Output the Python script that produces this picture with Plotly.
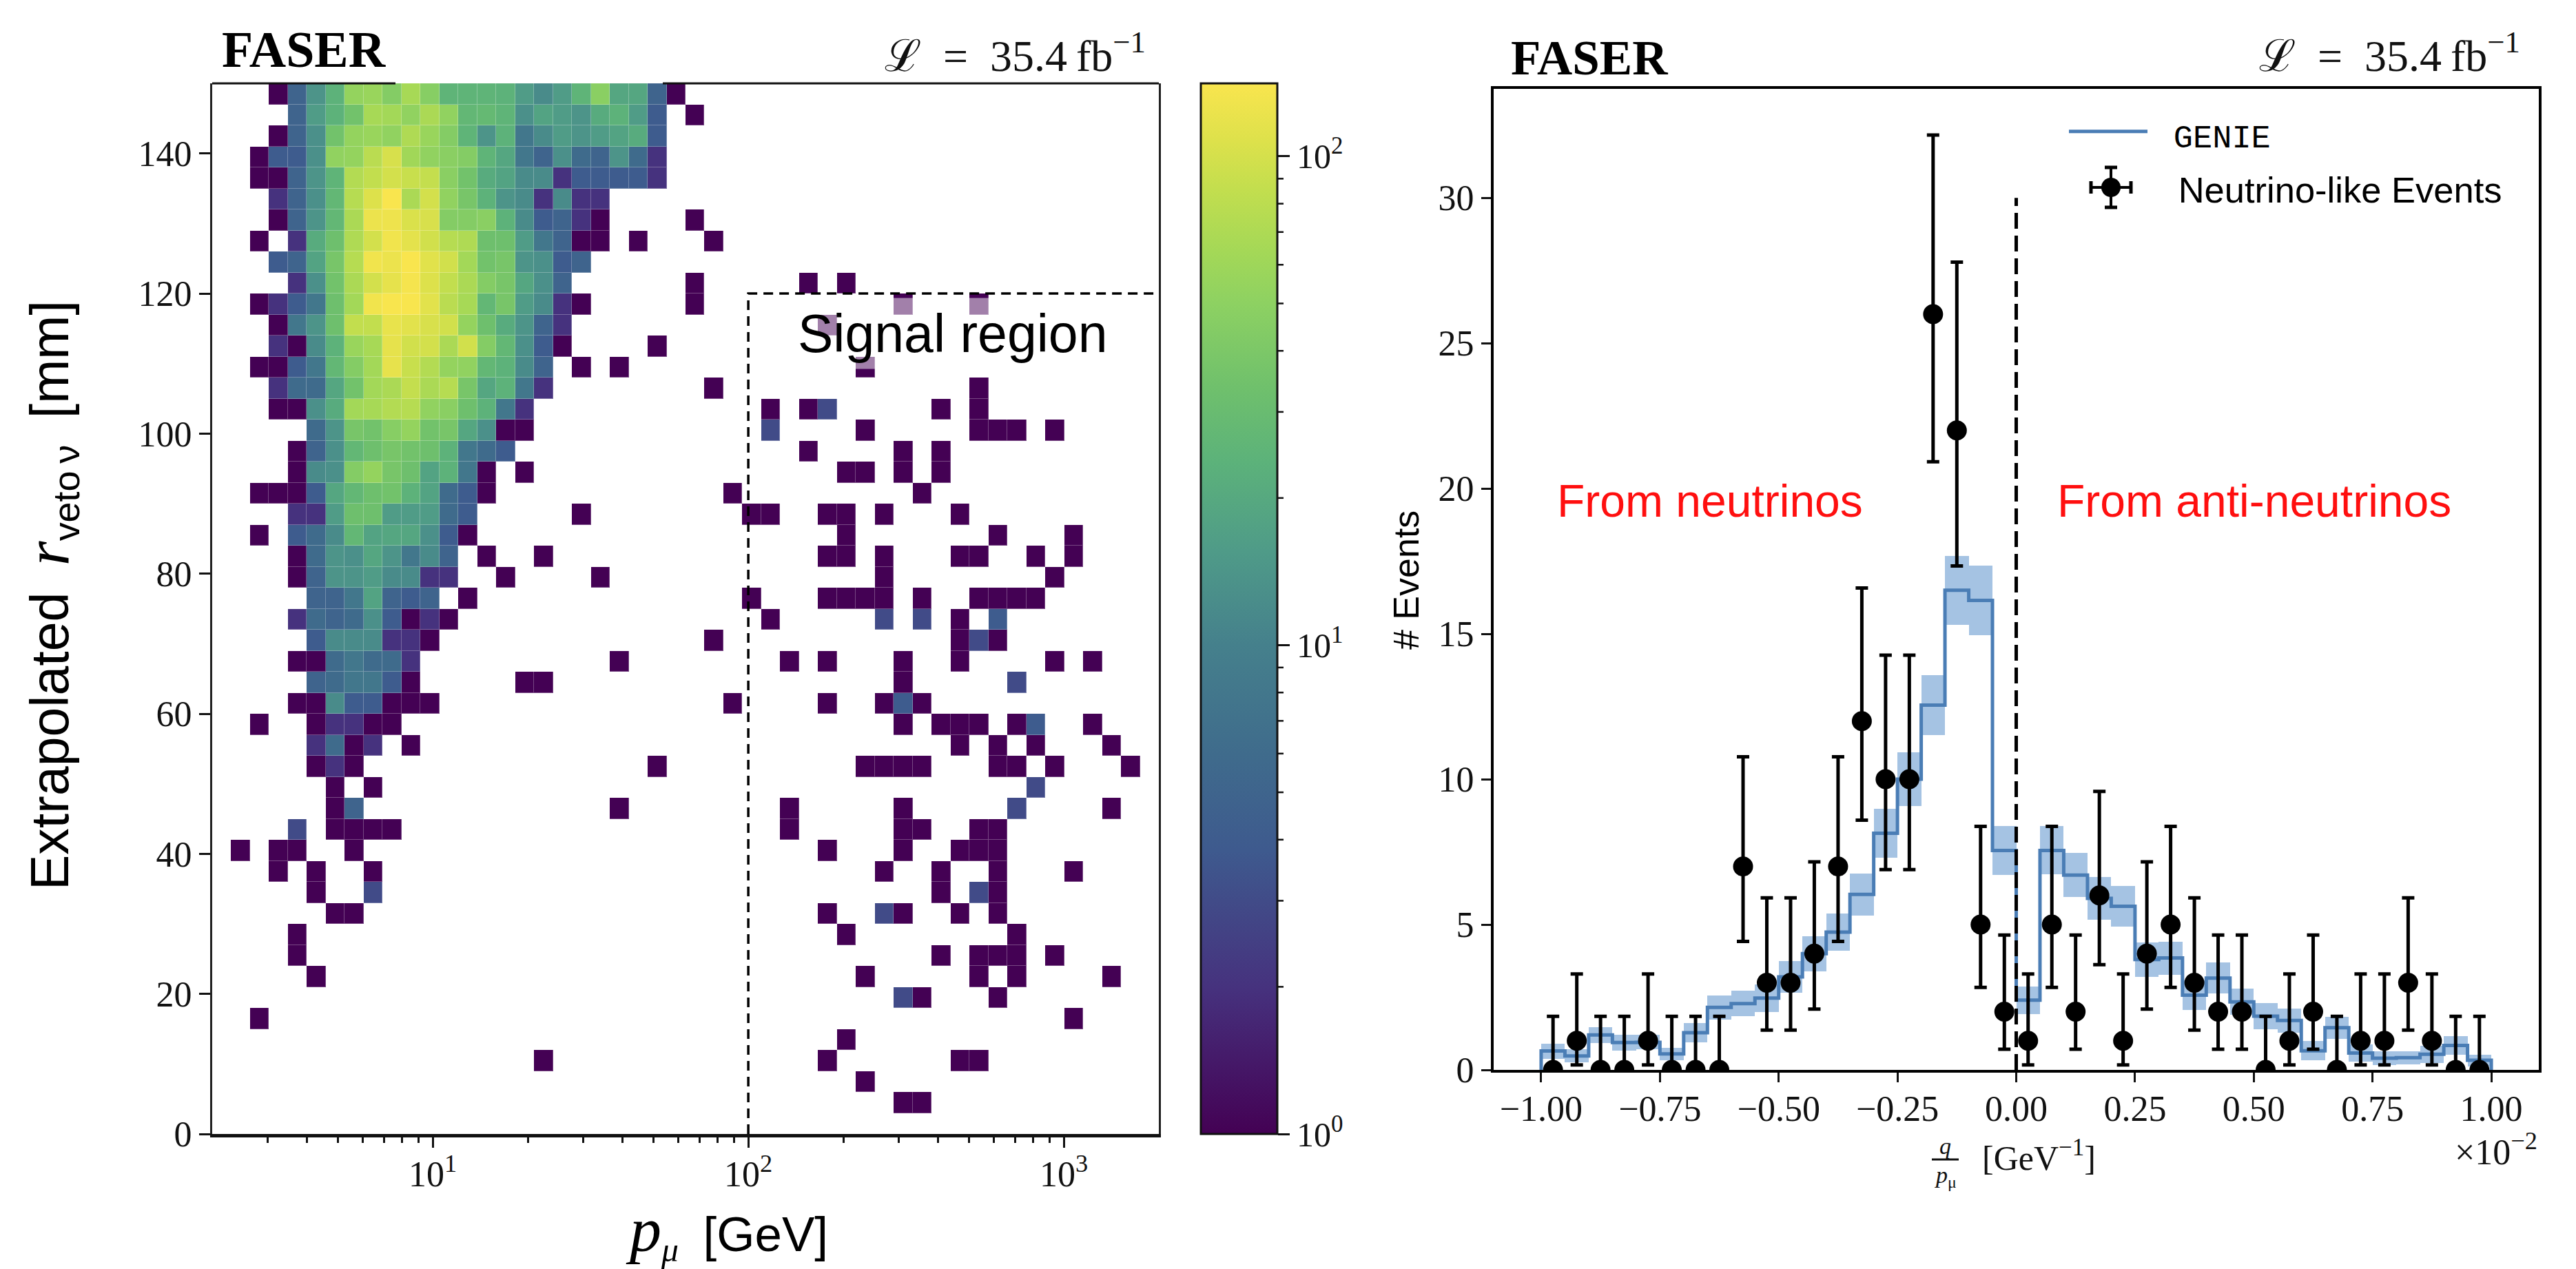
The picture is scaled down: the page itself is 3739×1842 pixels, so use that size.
import numpy as np
import plotly.graph_objects as go

W, H = 3739, 1842

# ---------- left panel: counts per bin, (first column, counts) segments per row ----------
r1 = [(36,[1,1])]
r2 = [(34,[1])]
r3 = [(17,[1]),(32,[1]),(39,[1,1])]
r4 = [(33,[1])]
r5 = [(2,[1]),(45,[1])]
r6 = [(36,[3,1]),(41,[1])]
r7 = [(5,[1]),(34,[1]),(40,[1]),(42,[1]),(47,[1])]
r8 = [(4,[1]),(38,[1]),(40,[1,1,1]),(44,[1])]
r9 = [(4,[1]),(33,[1]),(42,[1])]
r10 = [(6,[1,1]),(32,[1]),(35,[3,1]),(39,[1]),(41,[1])]
r11 = [(5,[1]),(8,[3]),(38,[1]),(40,[3,1])]
r12 = [(3,[1]),(5,[1]),(8,[1]),(35,[1]),(38,[1]),(41,[1]),(45,[1])]
r13 = [(1,[1]),(3,[1,1]),(7,[1]),(32,[1]),(36,[1]),(39,[1,1,1])]
r14 = [(4,[3]),(6,[1,1,1,1]),(30,[1]),(36,[1,1]),(40,[1,1])]
r15 = [(6,[1,5]),(21,[1]),(30,[1]),(36,[1]),(42,[3]),(47,[1])]
r16 = [(6,[1]),(8,[1]),(43,[3])]
r17 = [(5,[1,2,1]),(23,[1]),(34,[1,1,1,1]),(41,[1,1]),(44,[1]),(48,[1])]
r18 = [(5,[2,6,1,2]),(10,[1]),(39,[1]),(41,[1]),(43,[1]),(47,[1])]
r19 = [(2,[1]),(5,[1,2,2,1,1]),(36,[1]),(38,[1,1,1]),(42,[1,4]),(46,[1])]
r20 = [(4,[1,1,12,4,4,1,1,1]),(27,[1]),(32,[1]),(35,[1,4,1])]
r21 = [(5,[5,6,8,8,4,1]),(16,[1,1]),(36,[1]),(42,[3])]
r22 = [(4,[1,1,6,8,6,6,2]),(21,[1]),(30,[1]),(32,[1]),(36,[1]),(39,[1]),(44,[1]),(46,[1])]
r23 = [(5,[4,12,12,12,2,2,1]),(26,[1]),(39,[1,3,1])]
r24 = [(4,[2,6,5,6,13,4,1,2,1]),(29,[1]),(35,[3]),(37,[3]),(39,[1]),(41,[4])]
r25 = [(5,[5,5,8,18,5,4,5]),(13,[1]),(28,[1]),(32,[1,1,1,1]),(37,[1]),(40,[1,1,1,1])]
r26 = [(4,[1,5,14,14,16,12,12,2,2]),(15,[1]),(20,[1]),(35,[1]),(44,[1])]
r27 = [(4,[1,6,14,13,19,14,8,12,5]),(14,[1]),(17,[1]),(32,[1,1]),(35,[1]),(39,[1,1]),(43,[1]),(45,[1])]
r28 = [(2,[1]),(4,[4,6,12,27,18,19,19,13,4,1]),(33,[1]),(41,[1]),(45,[1])]
r29 = [(4,[2,2,16,33,33,16,16,16,6,4]),(19,[1]),(28,[1,1]),(32,[1,1]),(35,[1]),(39,[1])]
r30 = [(2,[1,1,1,4,19,27,33,35,24,18,6,4,1]),(27,[1]),(37,[1])]
r31 = [(4,[1,12,13,44,54,38,33,18,24,8,1]),(16,[1]),(33,[1,1]),(36,[1]),(38,[1])]
r32 = [(4,[1,5,13,27,33,38,35,33,24,8,6,4]),(31,[1]),(36,[1]),(38,[1])]
r33 = [(5,[6,14,38,35,46,54,35,38,19,13,1,1]),(29,[3]),(34,[1]),(40,[1,1,1]),(44,[1])]
r34 = [(3,[1,1,13,21,63,66,74,76,52,48,33,24,8,2]),(29,[1]),(31,[1,3]),(38,[1]),(40,[1])]
r35 = [(3,[2,6,6,19,35,63,68,87,68,76,38,19,24,8,2]),(26,[1]),(40,[1])]
r36 = [(2,[1,1,4,8,27,44,63,118,90,74,54,52,27,24,12,5]),(19,[1]),(21,[1]),(34,[1])]
r37 = [(3,[2,1,12,24,57,66,117,97,99,68,97,44,27,13,4,1]),(23,[1])]
r38 = [(3,[1,8,14,33,85,85,120,113,103,97,54,33,21,14,5,2]),(32,[1])]
r39 = [(2,[1,2,4,8,33,63,130,139,139,113,79,66,27,38,16,12,2,1]),(25,[1]),(36,[1]),(40,[1])]
r40 = [(4,[2,13,35,68,99,117,135,107,85,68,44,38,19,13,5]),(25,[1]),(31,[1]),(33,[1])]
r41 = [(3,[4,5,18,38,76,130,124,141,112,97,63,35,38,14,13,4,5])]
r42 = [(2,[1]),(4,[2,21,33,71,99,130,115,97,76,71,33,33,16,8,5,1,1]),(22,[1]),(26,[1])]
r43 = [(3,[1,5,14,27,68,124,127,105,103,44,44,48,24,12,4,5,2,1]),(25,[1])]
r44 = [(3,[2,5,13,27,76,107,141,68,99,52,38,24,14,12,2,12,2,2])]
r45 = [(2,[1,1,5,14,25,74,85,99,90,87,48,35,21,18,12,12,2,4,4,4,4,2])]
r46 = [(2,[1,4,4,13,52,54,79,102,62,52,48,44,25,19,8,5,13,6,5,14,6,2])]
r47 = [(3,[1,5,13,35,54,57,52,71,57,44,25,14,24,8,12,16,14,16,18,21,4])]
r48 = [(4,[5,16,24,35,66,63,52,68,52,27,28,25,13,18,16,14,21,24,16,4]),(25,[1])]
r49 = [(3,[1,5,14,24,54,57,44,66,46,25,25,25,24,16,12,16,25,48,19,19,5,1])]

row_segments = [[], r1, r2, r3, r4, r5, r6, r7, r8, r9, r10, r11, r12, r13, r14, r15, r16,
                r17, r18, r19, r20, r21, r22, r23, r24, r25, r26, r27, r28, r29, r30, r31,
                r32, r33, r34, r35, r36, r37, r38, r39, r40, r41, r42, r43, r44, r45, r46,
                r47, r48, r49]

y_ticks_left = [0, 20, 40, 60, 80, 100, 120, 140]
x_ticks_left = [10, 100, 1000]
x_tick_text_left = ["10<sup>1</sup>", "10<sup>2</sup>", "10<sup>3</sup>"]
x_minor_left = [3,4,5,6,7,8,9,20,30,40,50,60,70,80,90,200,300,400,500,600,700,800,900]
cbar_ticks = [1, 10, 100]
cbar_text = ["10<sup>0</sup>", "10<sup>1</sup>", "10<sup>2</sup>"]
cbar_minor = [2,3,4,5,6,7,8,9,20,30,40,50,60,70,80,90]
count_max = 141

# ---------- right panel ----------
q_edges = [-1.00,-0.95,-0.90,-0.85,-0.80,-0.75,-0.70,-0.65,-0.60,-0.55,-0.50,-0.45,-0.40,-0.35,-0.30,-0.25,-0.20,-0.15,-0.10,-0.05,
           0.00,0.05,0.10,0.15,0.20,0.25,0.30,0.35,0.40,0.45,0.50,0.55,0.60,0.65,0.70,0.75,0.80,0.85,0.90,0.95,1.00]
genie = [0.65,0.48,1.20,0.94,0.95,0.55,1.28,2.15,2.28,2.47,3.20,4.00,4.74,6.04,8.14,10.0,12.55,16.5,16.15,7.55,
         2.40,7.55,6.70,5.90,5.63,3.80,3.85,2.57,3.16,2.34,1.85,1.70,0.66,1.45,0.58,0.40,0.42,0.54,0.84,0.33]
genie_err = [0.26,0.22,0.28,0.28,0.25,0.22,0.33,0.42,0.44,0.47,0.55,0.60,0.65,0.72,0.84,0.93,1.04,1.18,1.20,0.85,
             0.47,0.83,0.76,0.73,0.70,0.59,0.57,0.50,0.54,0.45,0.44,0.42,0.33,0.38,0.30,0.24,0.22,0.30,0.32,0.20]
events = [0,1,0,0,1,0,0,0,7,3,3,4,7,12,10,10,26,22,5,2,
          1,5,2,6,1,4,5,3,2,2,0,1,2,0,1,1,3,1,0,0]
events_up = [1.84,2.30,1.84,1.84,2.30,1.84,1.84,1.84,3.77,2.92,2.92,3.16,3.77,4.58,4.27,4.27,6.16,5.79,3.38,2.64,
             2.30,3.38,2.64,3.58,2.30,3.16,3.38,2.92,2.64,2.64,1.84,2.30,2.64,1.84,2.30,2.30,2.92,2.30,1.84,1.84]
events_dn = [0,0.83,0,0,0.83,0,0,0,2.58,1.63,1.63,1.91,2.58,3.41,3.11,3.11,5.08,4.66,2.16,1.29,
             0.83,2.16,1.29,2.38,0.83,1.91,2.16,1.63,1.29,1.29,0,0.83,1.29,0,0.83,0.83,1.63,0.83,0,0]
x_ticks_right = [-1.00,-0.75,-0.50,-0.25,0.00,0.25,0.50,0.75,1.00]
x_tick_text_right = ["\u22121.00","\u22120.75","\u22120.50","\u22120.25","0.00","0.25","0.50","0.75","1.00"]
y_ticks_right = [0,5,10,15,20,25,30]

# ---------- styles and pixel geometry ----------
SERIF = "Liberation Serif"
SANS = "Liberation Sans"
L_L, L_R, L_T, L_B = 308, 1682, 121, 1646
R_L, R_R, R_T, R_B = 2168, 3685, 129, 1553
CB_L, CB_R = 1743, 1854
def px(x): return x / W
def py(y): return 1 - y / H

colorscale = [[0.00,"#440154"],[0.14,"#46327e"],[0.27,"#3e5a8e"],[0.36,"#3f6b8c"],[0.465,"#45808c"],
              [0.555,"#4f9b88"],[0.64,"#5cb27a"],[0.71,"#6fc06c"],[0.79,"#8dd162"],[0.84,"#a4d857"],
              [0.90,"#c3de4e"],[0.945,"#dde14b"],[1.00,"#f9e54e"]]

# ---------- build grid ----------
Z = np.full((50, 50), np.nan)
for j, segs in enumerate(row_segments):
    for start, vals in segs:
        for k, v in enumerate(vals):
            Z[j, start + k] = np.log10(v)
Z_list = [[None if np.isnan(v) else float(v) for v in row] for row in Z]
x_edges = np.geomspace(2, 2000, 51).tolist()
y_edges = np.linspace(0, 150, 51).tolist()

fig = go.Figure()
zmax = float(np.log10(count_max))

# pale layer shows through the thin seams between the cells
fig.add_trace(go.Heatmap(z=Z_list, x=x_edges, y=y_edges, colorscale=colorscale, zmin=0, zmax=zmax,
                         showscale=False, opacity=0.72, hoverongaps=False, xaxis="x", yaxis="y"))
fig.add_trace(go.Heatmap(z=Z_list, x=x_edges, y=y_edges, colorscale=colorscale, zmin=0, zmax=zmax,
                         xgap=1, ygap=1, hoverongaps=False, xaxis="x", yaxis="y",
                         colorbar=dict(x=px(CB_L), xanchor="left", xpad=0, ypad=0,
                                       y=py(L_T), yanchor="top", len=(L_B - L_T) / H, lenmode="fraction",
                                       thickness=CB_R - CB_L, thicknessmode="pixels",
                                       outlinewidth=3, outlinecolor="#111",
                                       tickmode="array", tickvals=[float(np.log10(v)) for v in cbar_ticks],
                                       ticktext=cbar_text, ticks="outside", ticklen=17, tickwidth=3,
                                       tickcolor="#111", tickfont=dict(family=SERIF, size=50, color="#111"))))
fig.add_trace(go.Scatter(x=[100, 100, 2000], y=[0, 120, 120], mode="lines", showlegend=False, hoverinfo="skip",
                         line=dict(color="black", width=3.5, dash="14px,9px"), xaxis="x", yaxis="y"))

# right panel
centers = [(a + b) / 2 for a, b in zip(q_edges[:-1], q_edges[1:])]
fig.add_trace(go.Bar(x=centers, y=[2 * e for e in genie_err],
                     base=[g - e for g, e in zip(genie, genie_err)], width=0.05,
                     marker=dict(color="rgba(66,129,196,0.48)", line=dict(width=0)),
                     showlegend=False, hoverinfo="skip", xaxis="x2", yaxis="y2"))
fig.add_trace(go.Scatter(x=[q_edges[0]] + q_edges, y=[0] + genie + [0, 0], mode="lines",
                         line=dict(color="#4a7db5", width=5, shape="hv"),
                         name='\u00a0\u00a0<span style="font-family:Liberation Mono;font-size:47px">GENIE</span>',
                         xaxis="x2", yaxis="y2"))
fig.add_trace(go.Scatter(x=[0, 0], y=[0, 30], mode="lines", showlegend=False, hoverinfo="skip",
                         line=dict(color="black", width=5, dash="23px,10px"), xaxis="x2", yaxis="y2"))
fig.add_trace(go.Scatter(x=centers, y=events, mode="markers",
                         marker=dict(color="black", size=29),
                         error_y=dict(type="data", symmetric=False, array=events_up, arrayminus=events_dn,
                                      thickness=5, width=9, color="black"),
                         error_x=dict(type="data", value=0.025, thickness=5, width=8, color="black"),
                         name='<span style="font-size:52.5px">\u00a0\u00a0\u2009Neutrino-like Events</span>',
                         xaxis="x2", yaxis="y2"))

# ---------- annotations ----------
def note(text, x, y, size, family=SERIF, color="#111", xanchor="center", yanchor="middle", **kw):
    return dict(text=text, x=px(x), y=py(y), xref="paper", yref="paper", showarrow=False,
                xanchor=xanchor, yanchor=yanchor, font=dict(family=family, size=size, color=color), **kw)

LUMI = "\u2112\u2002=\u200235.4\u2009fb<sup>\u22121</sup>"
annotations = [
    note("<b>FASER</b>", 320, 72, 74, xanchor="left", color="black"),
    note(LUMI, 1665, 76, 64, xanchor="right"),
    note("<b>FASER</b>", 2191, 84, 71, xanchor="left", color="black"),
    note(LUMI, 3660, 76, 64, xanchor="right"),
    note("Signal region", 1382, 484, 77, family=SANS, color="black",
         bgcolor="rgba(255,255,255,0.5)", borderpad=8),
    note('Extrapolated\u2002<span style="font-family:Liberation Serif;font-style:italic;font-size:92px">r</span>'
         '<sub>veto\u2009\u03bd</sub>\u2002[mm]', 71, 864, 77, family=SANS, color="black", textangle=-90),
    note('<span style="font-family:Liberation Serif;font-style:italic;font-size:92px">p</span>'
         '<span style="font-family:Liberation Serif;font-style:italic"><sub>\u03bc</sub></span>\u2002[GeV]',
         1055, 1788, 71, family=SANS, color="black"),
    note("From neutrinos", 2482, 727, 66, family=SANS, color="#ff0f0f"),
    note("From anti-neutrinos", 3272, 727, 66, family=SANS, color="#ff0f0f"),
    note("# Events", 2041, 842, 52, family=SANS, color="black", textangle=-90),
    note("<i>q</i>", 2823, 1663, 34),
    note("<i>p</i><sub>\u03bc</sub>", 2824, 1708, 34),
    note("[GeV<sup>\u22121</sup>]", 2959, 1677, 50),
    note("\u00d710<sup>\u22122</sup>", 3685, 1668, 52, xanchor="right"),
]

# ---------- decoration shapes: spine pieces, fraction bar, colourbar minor ticks, legend key ----------
def line(x0, y0, x1, y1, width=3, color="#111"):
    return dict(type="line", xref="paper", yref="paper", x0=px(x0), y0=py(y0), x1=px(x1), y1=py(y1),
                line=dict(color=color, width=width), layer="above")

shapes = [line(L_L, L_T, 574, L_T), line(962, L_T, L_R, L_T),
          line(2804, 1683, 2843, 1683, 3)]
for v in cbar_minor:
    yy = L_B - (L_B - L_T) * np.log10(v) / zmax
    shapes.append(line(CB_R, yy, CB_R + 9, yy, 2.5))
KX, KY = 3064, 272
shapes += [line(KX - 29, KY, KX + 29, KY, 4, "black"), line(KX, KY - 29, KX, KY + 29, 4, "black"),
           line(KX - 29, KY - 9, KX - 29, KY + 9, 5, "black"), line(KX + 29, KY - 9, KX + 29, KY + 9, 5, "black"),
           line(KX - 9, KY - 29, KX + 9, KY - 29, 5, "black"), line(KX - 9, KY + 29, KX + 9, KY + 29, 5, "black"),
           dict(type="circle", xref="paper", yref="paper", x0=px(KX - 14), x1=px(KX + 14),
                y0=py(KY + 14), y1=py(KY - 14), fillcolor="black", line=dict(width=0), layer="above")]

tickfont = dict(family=SERIF, size=52, color="#111")
fig.update_layout(
    width=W, height=H, autosize=False, margin=dict(l=0, r=0, t=0, b=0, pad=0, autoexpand=False),
    paper_bgcolor="white", plot_bgcolor="white", bargap=0,
    annotations=annotations, shapes=shapes,
    legend=dict(x=px(2998), y=py(146), xanchor="left", yanchor="top", bgcolor="rgba(0,0,0,0)",
                borderwidth=0, itemwidth=114, itemsizing="trace", tracegroupgap=0,
                font=dict(family=SANS, size=59, color="black")),
    xaxis=dict(domain=[px(L_L), px(L_R)], type="log", range=[np.log10(2), np.log10(2000)],
               anchor="y", showgrid=False, zeroline=False, showline=True, linecolor="#111", linewidth=5,
               ticks="outside", ticklen=15, tickwidth=3, tickcolor="#111", ticklabelstandoff=-6,
               tickmode="array", tickvals=x_ticks_left, ticktext=x_tick_text_left, tickfont=tickfont,
               minor=dict(ticks="outside", ticklen=8, tickwidth=2.5, tickcolor="#111",
                          tickmode="array", tickvals=x_minor_left, showgrid=False)),
    yaxis=dict(domain=[py(L_B), py(L_T)], range=[0, 150], anchor="x", showgrid=False, zeroline=False,
               showline=True, linecolor="#222", linewidth=3, mirror=True,
               ticks="outside", ticklen=16, tickwidth=3, tickcolor="#111",
               tickmode="array", tickvals=y_ticks_left, tickfont=tickfont),
    xaxis2=dict(domain=[px(R_L), px(R_R)], range=[-1.1, 1.1], anchor="y2", showgrid=False, zeroline=False,
                showline=True, linecolor="black", linewidth=4, mirror=True,
                ticks="outside", ticklen=14, tickwidth=3, tickcolor="#111", ticklabelstandoff=-6,
                tickmode="array", tickvals=x_ticks_right, ticktext=x_tick_text_right, tickfont=tickfont),
    yaxis2=dict(domain=[py(R_B), py(R_T)], range=[0, 33.75], anchor="x2", showgrid=False, zeroline=False,
                showline=True, linecolor="black", linewidth=4, mirror=True,
                ticks="outside", ticklen=14, tickwidth=3, tickcolor="#111",
                tickmode="array", tickvals=y_ticks_right, tickfont=tickfont),
)

fig.write_html("out.html", post_script="document.body.style.margin='0';document.body.style.overflow='hidden';",
               config=dict(displayModeBar=False))
